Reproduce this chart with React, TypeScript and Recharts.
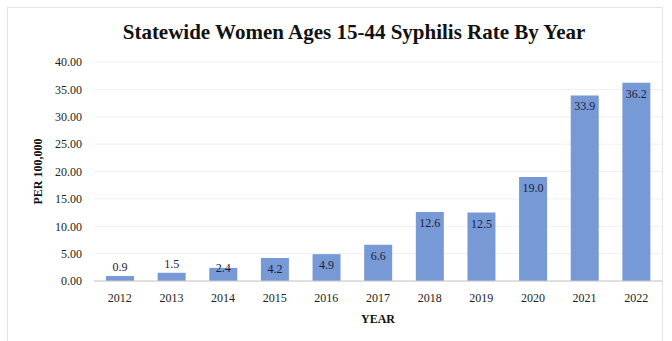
import { BarChart, Bar, XAxis, YAxis, CartesianGrid, LabelList } from 'recharts'

const years = ['2012', '2013', '2014', '2015', '2016', '2017', '2018', '2019', '2020', '2021', '2022']
const rates = [0.9, 1.5, 2.4, 4.2, 4.9, 6.6, 12.6, 12.5, 19.0, 33.9, 36.2]
const yTicks = [0, 5, 10, 15, 20, 25, 30, 35, 40]

const data = years.map((y, i) => ({ year: y, rate: rates[i] }))

const font = '"Liberation Serif", "Times New Roman", serif'

// labels sit above the tiny bars, straddle the short ones, inside the rest
function RateLabel(props: any) {
  const { x, y, width, height, value } = props
  let ty = y + 15
  if (value < 2) ty = y - 5
  else if (height < 18) ty = y + 4
  return (
    <text x={x + width / 2} y={ty} textAnchor="middle" fontFamily={font} fontSize={12} fill="#1a2238">
      {value.toFixed(1)}
    </text>
  )
}

export default function App() {
  return (
    <div style={{ position: 'absolute', left: 0, top: 0, width: 672, height: 341, background: '#fff' }}>
      <div
        style={{
          position: 'absolute',
          left: 7,
          top: 7,
          width: 656,
          height: 340,
          border: '1px solid #e4e4e4',
          boxSizing: 'border-box',
        }}
      />
      <div
        style={{
          position: 'absolute',
          left: 0,
          top: 20,
          width: 708,
          textAlign: 'center',
          fontFamily: font,
          fontWeight: 'bold',
          fontSize: 21,
          color: '#111',
        }}
      >
        Statewide Women Ages 15-44 Syphilis Rate By Year
      </div>
      <BarChart
        width={672}
        height={341}
        data={data}
        margin={{ top: 62, right: 10, bottom: 18, left: 26 }}
        barSize={28}
      >
        <CartesianGrid vertical={false} stroke="#f0f0f0" />
        <XAxis
          dataKey="year"
          height={42}
          tickLine={false}
          axisLine={{ stroke: '#c8c8c8' }}
          tick={{ fontFamily: font, fontSize: 12, fill: '#222' }}
          tickMargin={6}
          label={{ value: 'YEAR', position: 'insideBottom', offset: 0, fontFamily: font, fontSize: 12, fontWeight: 'bold', fill: '#111' }}
        />
        <YAxis
          ticks={yTicks}
          domain={[0, 40]}
          width={68}
          tickLine={false}
          axisLine={false}
          tickSize={0}
          tickMargin={12}
          tickFormatter={(v: number) => v.toFixed(2)}
          tick={{ fontFamily: font, fontSize: 12, fill: '#222' }}
          label={{ value: 'PER 100,000', angle: -90, position: 'insideLeft', offset: 12, dy: 33, fontFamily: font, fontSize: 12, fontWeight: 'bold', fill: '#111' }}
        />
        <Bar dataKey="rate" fill="#7799d6" isAnimationActive={false}>
          <LabelList dataKey="rate" content={RateLabel} />
        </Bar>
      </BarChart>
    </div>
  )
}
